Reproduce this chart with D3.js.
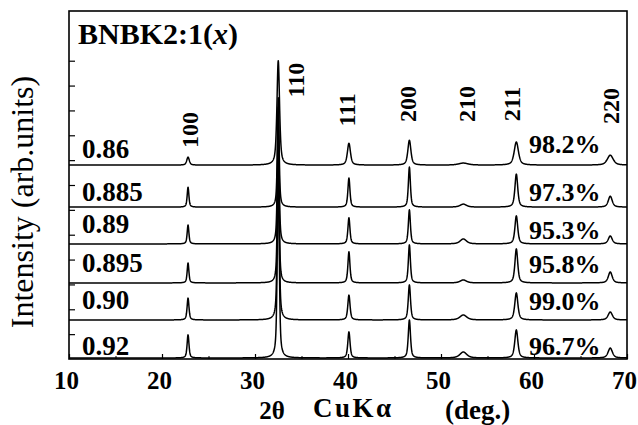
<!DOCTYPE html>
<html>
<head>
<meta charset="utf-8">
<script src="https://cdn.jsdelivr.net/npm/d3@7"></script>
<style>
  html, body { margin: 0; padding: 0; background: #fff; }
  svg { display: block; }
  text { font-family: "Liberation Serif", "Times New Roman", serif; fill: #000; }
</style>
</head>
<body>
<svg id="chart" width="638" height="425"></svg>
<script>
// ---- Data: XRD patterns of BNBK2:1(x) ceramics (CuKα, 2θ in degrees) ----
const samples   = ["0.86", "0.885", "0.89", "0.895", "0.90", "0.92"];
const densities = ["98.2%", "97.3%", "95.3%", "95.8%", "99.0%", "96.7%"];
// vertical stacking offset of each pattern (arb. units)
const offsets   = [7.8, 6.11, 4.63, 3.06, 1.57, 0.04];

// reflections of the perovskite phase
const hkl       = ["100", "110", "111", "200", "210", "211", "220"];
const peakPos   = [22.8, 32.5, 40.1, 46.6, 52.4, 58.1, 68.2];   // 2θ (deg.)
const peakFwhm  = [0.22, 0.22, 0.26, 0.26, 0.80, 0.36, 0.50];   // deg.
// per-sample broadening factor
const broadening = [1.5, 1.0, 1.0, 1.0, 1.1, 1.1];

// peak intensities (arb. units) for each composition, in hkl order
const int086  = [0.32, 4.2, 0.88, 1.00, 0.08, 0.93, 0.40];
const int0885 = [0.80, 4.4, 1.17, 1.61, 0.12, 1.33, 0.44];
const int089  = [0.76, 5.5, 1.05, 1.37, 0.20, 1.13, 0.32];
const int0895 = [0.80, 6.0, 1.25, 1.53, 0.12, 1.37, 0.44];
const int090  = [0.88, 7.0, 1.00, 1.41, 0.20, 1.09, 0.32];
const int092  = [0.93, 8.0, 1.05, 1.53, 0.24, 1.13, 0.40];
const intensities = [int086, int0885, int089, int0895, int090, int092];

const xTicks = [10, 20, 30, 40, 50, 60, 70];
const xMinorTicks = [15, 25, 35, 45, 55, 65];
const yTicks = [1, 2, 3, 4, 5, 6, 7, 8, 9, 10, 11, 12];

// ---- Layout ----
const svg = d3.select("#chart");
const margin = { left: 69, right: 11, top: 11, bottom: 66 };
const W = 638, H = 425;

const x = d3.scaleLinear().domain([10, 70]).range([margin.left, W - margin.right]);
const y = d3.scaleLinear().domain([0, 14]).range([H - margin.bottom, margin.top]);

// pseudo-Voigt sum profile for one pattern, sampled on the 2θ grid
const eta = 0.6;
const grid = d3.range(10, 70.0001, 0.02);
function profile(heights, k) {
  return grid.map(t => {
    let v = 0;
    heights.forEach((h, i) => {
      const hw = peakFwhm[i] * broadening[k] / 2;
      const d2 = ((t - peakPos[i]) / hw) ** 2;
      v += h * (eta / (1 + d2) + (1 - eta) * Math.exp(-Math.LN2 * d2));
    });
    return [t, offsets[k] + v];
  });
}

const line = d3.line().x(d => x(d[0])).y(d => Math.max(y(d[1]), margin.top));

const plot = svg.append("g");

// patterns
intensities.forEach((heights, k) => {
  plot.append("path")
    .datum(profile(heights, k))
    .attr("fill", "none")
    .attr("stroke", "#000")
    .attr("stroke-width", 1.5)
    .attr("stroke-linejoin", "round")
    .attr("d", line);
});

// frame
plot.append("rect")
  .attr("x", x(10)).attr("y", y(14))
  .attr("width", x(70) - x(10)).attr("height", y(0) - y(14))
  .attr("fill", "none").attr("stroke", "#000").attr("stroke-width", 1.6);

// bottom axis (ticks pointing inward)
const xAxis = d3.axisBottom(x).tickValues(xTicks).tickSize(-5).tickFormat(d3.format("d")).tickPadding(12);
const gx = svg.append("g").attr("transform", `translate(0,${y(0)})`).call(xAxis);
gx.select(".domain").remove();
gx.selectAll("text")
  .attr("dx", -3)
  .style("font-family", "Liberation Serif, serif")
  .style("font-weight", "bold")
  .style("font-size", "25px");
gx.selectAll("line").attr("stroke-width", 1.2);

const xMinor = d3.axisBottom(x).tickValues(xMinorTicks).tickSize(-3).tickFormat("");
const gxm = svg.append("g").attr("transform", `translate(0,${y(0)})`).call(xMinor);
gxm.select(".domain").remove();

// left axis (unlabelled intensity ticks, pointing inward)
const yAxis = d3.axisLeft(y).tickValues(yTicks).tickSize(-6).tickFormat("");
const gy = svg.append("g").attr("transform", `translate(${x(10)},0)`).call(yAxis);
gy.select(".domain").remove();
gy.selectAll("line").attr("stroke-width", 1.2);

// composition labels and relative densities, set just above each pattern
const sampleLift  = [7, 6, 11, 11, 11, 3];    // px
const densityLift = [12, 6, 5, 10, 10, 3];    // px
samples.forEach((s, k) => {
  svg.append("text")
    .attr("x", x(11.4)).attr("y", y(offsets[k]) - sampleLift[k])
    .style("font-weight", "bold").style("font-size", "27px")
    .text(s);
  svg.append("text")
    .attr("x", x(59.46)).attr("y", y(offsets[k]) - densityLift[k])
    .style("font-weight", "bold").style("font-size", "26px")
    .text(densities[k]);
});

// hkl indices, written vertically above the top pattern
const hklLabelShift = [0.2, 1.9, -0.3, -0.2, 0.3, -0.5, 0.0];   // deg.
const hklLabelLevel = [9.21, 11.22, 10.02, 10.26, 10.26, 10.26, 10.18];
hkl.forEach((h, i) => {
  const cx = x(peakPos[i] + hklLabelShift[i]);
  const cy = y(hklLabelLevel[i]);
  svg.append("text")
    .attr("transform", `translate(${cx},${cy}) rotate(-90)`)
    .attr("text-anchor", "middle")
    .attr("dy", "0.35em")
    .style("font-weight", "bold").style("font-size", "24px")
    .text(h);
});

// title
const title = svg.append("text")
  .attr("x", 78).attr("y", 44)
  .style("font-weight", "bold").style("font-size", "30px");
title.append("tspan").text("BNBK2:1(");
title.append("tspan").style("font-style", "italic").text("x");
title.append("tspan").text(")");

// y-axis title
svg.append("text")
  .attr("transform", `translate(33,202) rotate(-90)`)
  .attr("text-anchor", "middle")
  .style("font-size", "32px")
  .text("Intensity (arb.units)");

// x-axis title
svg.append("text").attr("x", 272).attr("y", 419).attr("text-anchor", "middle")
  .style("font-weight", "bold").style("font-size", "25px").text("2θ");
svg.append("text").attr("x", 313).attr("y", 417)
  .style("font-weight", "bold").style("font-size", "27px")
  .style("letter-spacing", "2.5px").text("CuKα");
svg.append("text").attr("x", 445).attr("y", 419)
  .style("font-weight", "bold").style("font-size", "27px").text("(deg.)");
</script>
</body>
</html>
